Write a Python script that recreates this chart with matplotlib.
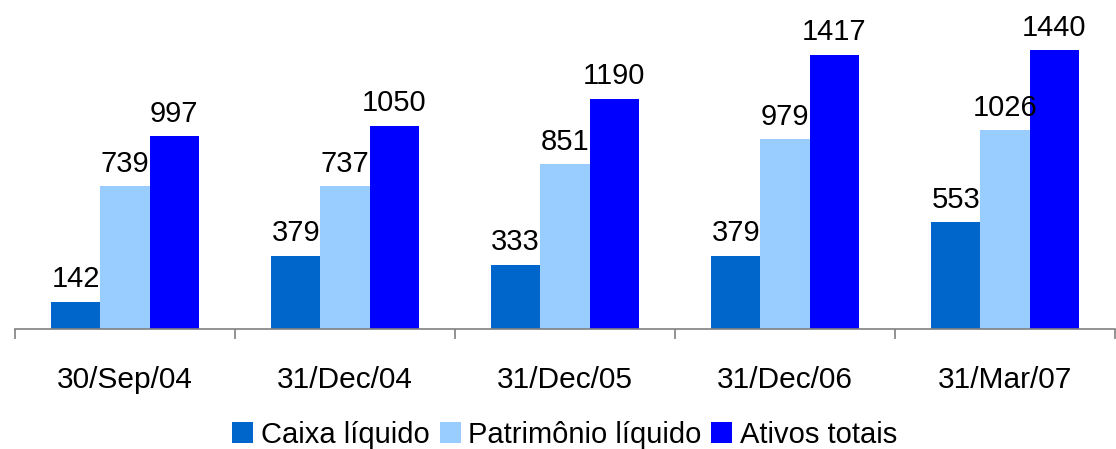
import numpy as np
import matplotlib
matplotlib.use("Agg")
import matplotlib.pyplot as plt

plt.rcParams['font.family'] = ['Liberation Sans', 'DejaVu Sans']

dates = ["30/Sep/04", "31/Dec/04", "31/Dec/05", "31/Dec/06", "31/Mar/07"]
caixa = [142, 379, 333, 379, 553]
patrimonio = [739, 737, 851, 979, 1026]
ativos = [997, 1050, 1190, 1417, 1440]

series = [
    ("Caixa líquido", caixa, "#0066CC"),
    ("Patrimônio líquido", patrimonio, "#99CCFF"),
    ("Ativos totais", ativos, "#0000FF"),
]

fig = plt.figure(figsize=(11.16, 4.49), dpi=100)
ax = fig.add_axes([15 / 1116, 120 / 449, 1100 / 1116, 329 / 449])

x = np.arange(len(dates))
width = 0.224
for i, (name, vals, color) in enumerate(series):
    pos = x + (i - 1) * width
    ax.bar(pos, vals, width, color=color, label=name, linewidth=0)
    for px, v in zip(pos, vals):
        ax.annotate(str(v), (px, v), xytext=(0, 6), textcoords="offset points",
                    ha="center", va="bottom", fontsize=21)

ax.set_xlim(-0.5, len(dates) - 0.5)
ax.set_ylim(0, 1699)
for s in ["top", "right", "left"]:
    ax.spines[s].set_visible(False)
ax.spines["bottom"].set_color("#808080")
ax.spines["bottom"].set_linewidth(1.2)
ax.set_yticks([])

# labels centred on groups, tick marks between groups
ax.set_xticks(x)
ax.set_xticklabels(dates, fontsize=21.5)
ax.tick_params(axis="x", which="major", length=0, pad=27)
ax.set_xticks(np.arange(len(dates) + 1) - 0.5, minor=True)
ax.tick_params(axis="x", which="minor", length=7, width=1.2, color="#808080")

fig.legend(loc="center", bbox_to_anchor=(0.506, 1 - 435 / 449), ncol=3,
           frameon=False, fontsize=21, handlelength=0.72, handleheight=0.72,
           handletextpad=0.25, columnspacing=0.35, borderaxespad=0)

fig.savefig("out.png", dpi=100)
